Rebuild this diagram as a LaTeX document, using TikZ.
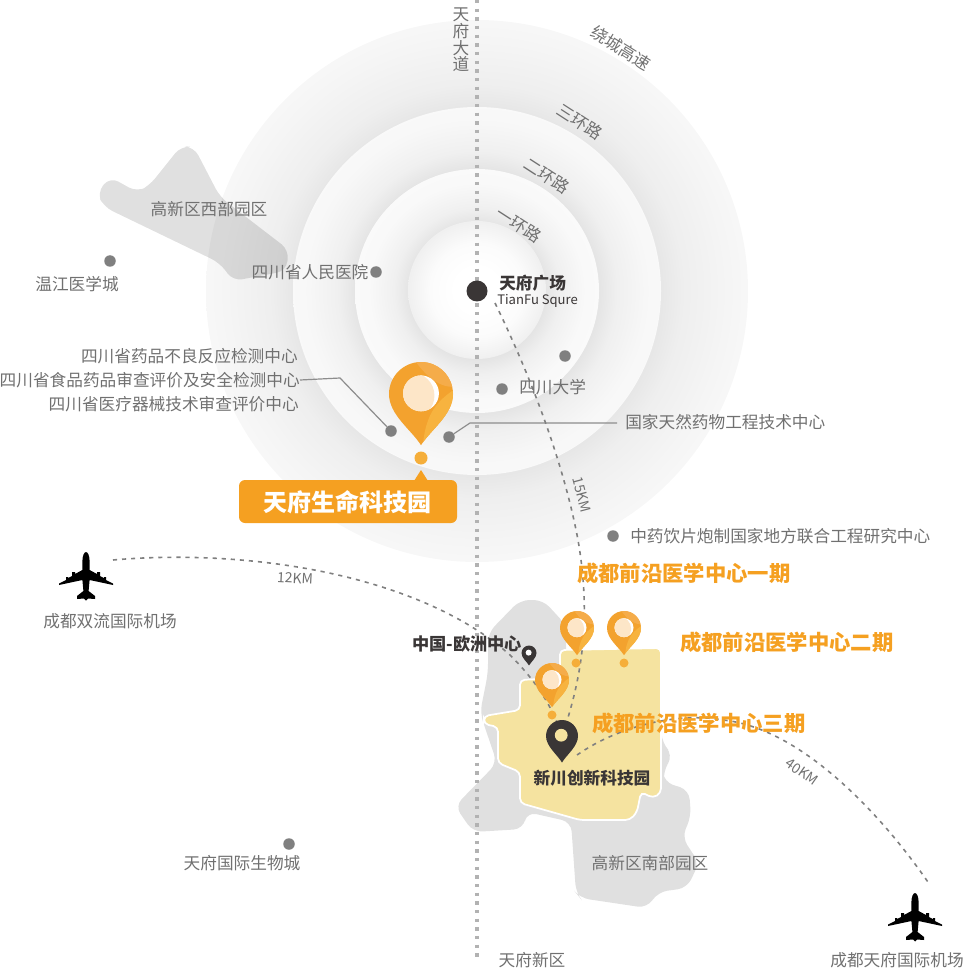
\documentclass[tikz,border=0pt]{standalone}
\usepackage{fontspec}
\setmainfont{Noto Sans CJK SC}
\usetikzlibrary{calc}
\definecolor{lab}{HTML}{707070}
\definecolor{dk}{HTML}{3A3636}
\definecolor{org}{HTML}{F5A021}
\definecolor{dotg}{HTML}{808080}
\definecolor{yel}{HTML}{F5E3A0}
\pgfdeclareradialshading{ringA}{\pgfpoint{0bp}{0bp}}{gray(0bp)=(0.905);gray(17bp)=(0.905);gray(19bp)=(0.935);gray(23bp)=(0.96);gray(25bp)=(0.97);gray(50bp)=(0.97)}
\pgfdeclareradialshading{ringB}{\pgfpoint{0bp}{0bp}}{gray(0bp)=(0.895);gray(16.5bp)=(0.895);gray(19bp)=(0.94);gray(23bp)=(0.97);gray(25bp)=(0.975);gray(50bp)=(0.975)}
\pgfdeclareradialshading{ringC}{\pgfpoint{0bp}{0bp}}{gray(0bp)=(0.895);gray(14bp)=(0.895);gray(17bp)=(0.94);gray(22bp)=(0.975);gray(25bp)=(0.98);gray(50bp)=(0.98)}
\pgfdeclareradialshading{ringD}{\pgfpoint{0bp}{0bp}}{gray(0bp)=(1);gray(8bp)=(1);gray(17bp)=(0.985);gray(25bp)=(0.94);gray(50bp)=(0.94)}
\definecolor{F3A02E}{HTML}{F3A22E}
\definecolor{F8BA45}{HTML}{F7B33F}
\definecolor{F5AD50}{HTML}{F5AC4A}
\definecolor{FDE6C8}{HTML}{FDE6C8}
\definecolor{F5AE3A}{HTML}{F5AE3A}
\tikzset{
  lbl/.style={inner sep=0pt,text=lab,font=\fontsize{12.5}{14}\selectfont},
  ttl/.style={inner sep=0pt,text=org,font=\fontsize{16}{18}\selectfont\bfseries},
  blk/.style={inner sep=0pt,text=dk,font=\fontsize{12.5}{14}\selectfont\bfseries},
  km/.style={inner sep=0pt,text=lab,font=\fontsize{10.5}{12}\selectfont},
  mapdot/.style={circle,fill=dotg,draw=none,inner sep=0pt,minimum size=11.5*.75pt},
  orgdot/.style={circle,fill=#1,draw=none,inner sep=0pt,minimum size=9*.75pt},
  orgdot/.default={F5AE3A},
  leaderline/.style={draw=dotg!90,line width=.9pt},
  dashline/.style={draw=dotg,line width=1.2pt,dash pattern=on 3.1pt off 3.7pt},
  region/.style={fill=black,fill opacity=.12,draw=none,rounded corners=7pt},
  orangepin/.pic={
    \def\pinpath{(0,1.6) .. controls (-.3,1.12) and (-1,.65) .. (-1,0) .. controls (-1,-.55) and (-.55,-1) .. (0,-1) .. controls (.55,-1) and (1,-.55) .. (1,0) .. controls (1,.65) and (.3,1.12) .. (0,1.6) -- cycle}
    \fill[pinbase] \pinpath;
    \begin{scope}
      \clip \pinpath;
      \fill[pinlight] (1.2,-.25) .. controls (.6,.15) and (.1,.5) .. (.05,1.8) -- (1.2,1.8) -- cycle;
      \fill[pintop] (-.3,-1.2) -- (1.2,-1.2) -- (1.2,-.25) .. controls (.6,-.1) and (.1,-.6) .. (-.3,-1.2) -- cycle;
    \end{scope}
    \fill[white] (0,-.02) circle[radius=.56];
    \begin{scope}
      \clip (0,-.02) circle[radius=.56];
      \fill[pincream] (-.3,.05) circle[radius=.72];
    \end{scope}
  },
  blackpin/.pic={
    \fill[dk] (0,1.66) .. controls (-.3,1.15) and (-1,.65) .. (-1,0) .. controls (-1,-.55) and (-.55,-1) .. (0,-1) .. controls (.55,-1) and (1,-.55) .. (1,0) .. controls (1,.65) and (.3,1.15) .. (0,1.66) -- cycle;
    \fill[pic actions] (-.05,-.05) circle[radius=.4];
  },
  pinbase/.style={fill=F3A02E},
  pinlight/.style={fill=F8BA45},
  pintop/.style={fill=F5AD50},
  pincream/.style={fill=FDE6C8},
}
\begin{document}
\begin{tikzpicture}[x=.75pt,y=-.75pt]
\useasboundingbox (0,0) rectangle (964,969);
% rings
\coordinate (ctr) at (477,291);
\shade[shading=ringA] (ctr) circle[radius=271];
\shade[shading=ringB] (ctr) circle[radius=184];
\shade[shading=ringC] (ctr) circle[radius=122];
\shade[shading=ringD] (477,290) circle[radius=69];
% regions
\path[region] (97,193) -- (110,177) -- (137,192) -- (149,186) -- (181,146) -- (194,147) -- (220,197) -- (289,250) -- (286,271) -- (233,281) -- (220,263) -- (104,207) -- cycle;
\path[region] (488,633) -- (520,600) -- (543,600) -- (566,625) -- (566,680) -- (660,700) -- (662,743) -- (673,755) -- (663,772) -- (664,782) -- (689,790) -- (691,817) -- (682,837) -- (699,863) -- (687,888) -- (658,892) -- (647,908) -- (580,898) -- (576,893) -- (571,822) -- (527,812) -- (523,829) -- (473,832) -- (455,806) -- (497,763) -- (480,713) -- (488,673) -- cycle;
\path[fill=yel,draw=white,line width=1.3pt,rounded corners=3.5pt] (560,650) -- (661,648) -- (661,793) -- (653,798) -- (641,792) -- (637,812) -- (630,820) -- (580,820) -- (520,803) -- (520,772) -- (498,763) -- (498,727) -- (484,724) -- (484,716) -- (520,710) -- (520,680) -- (560,678) -- cycle;
% avenue
\draw[draw=gray!60,line width=2.7pt,dash pattern=on 2.6pt off 3.9pt] (477,0) -- (477,960);
% dots
\node[mapdot] (dWen) at (110,261) {};
\node[mapdot] (dRen) at (376,272) {};
\node[mapdot] (dA) at (391,431) {};
\node[mapdot] (dB) at (449,437) {};
\node[mapdot] (dC) at (565,356) {};
\node[mapdot] (dD) at (502,389) {};
\node[mapdot] (dE) at (613,536) {};
\node[mapdot] (dF) at (289,844) {};
\node[circle,fill=dk,draw=none,inner sep=0pt,minimum size=21*.75pt] (square) at (477,291) {};
% text nodes used by connectors
\node[lbl,anchor=east] (food) at (300,380) {四川省食品药品审查评价及安全检测中心};
\node[lbl,anchor=west] (nat) at (625,422) {国家天然药物工程技术中心};
% leaders
\coordinate (kA) at (340,378);
\coordinate (kB) at (470,423);
\draw[leaderline] (food.east) -- (kA) -- (dA);
\draw[leaderline] (dB) -- (kB) -- ($(nat.west)+(-8,1)$);
% dashed connectors
\coordinate (airL) at (113,560);
\coordinate (airR) at (930,885);
\coordinate (xcA) at (562,736);
\coordinate (sqS) at (495,303);
\coordinate (xcB) at (577,755);
\draw[dashline] (sqS) .. controls (535,385) and (565,470) .. (578,540) .. controls (590,610) and (585,670) .. (xcA);
\draw[dashline] (airL) .. controls (250,548) and (420,575) .. (510,655) .. controls (535,680) and (552,705) .. (xcA);
\draw[dashline] (xcB) .. controls (620,725) and (680,712) .. (723,720) .. controls (800,728) and (880,812) .. (airR);
% big pin
\pic[scale=32] at (421,394) {orangepin};
\node[orgdot,minimum size=13*.75pt] (pinDot) at (421,458) {};
% callout
\fill[org,rounded corners=4.5pt] (239,480) rectangle (457,523);
\fill[org] (414,481) -- (421,470) -- (428,481) -- cycle;
\node[inner sep=0pt,text=white,font=\fontsize{18}{20}\selectfont\bfseries] (tfl) at (347,502) {天府生命科技园};
% small pins
\pic[scale=17] at (577,628) {orangepin};
\node[orgdot] (d1) at (576,663) {};
\pic[scale=17] at (624,628) {orangepin};
\node[orgdot] (d2) at (624,663) {};
\pic[scale=17] at (552,680) {orangepin};
\node[orgdot] (d3) at (552,715) {};
\pic[scale=16,fill=yel] at (562,736) {blackpin};
\pic[scale=7.5,fill=white] at (529,653) {blackpin};
% planes
\foreach \px/\py in {86/552,915/893}{
\fill[black,shift={(\px,\py)}] (0,0) .. controls (2,0) and (3.5,4) .. (3.6,9) -- (3.6,18) -- (11,22) -- (11,20) -- (14,20) -- (14,24) -- (18,26) -- (18,25) -- (20,25) -- (20,28) -- (27,31.5) -- (27,33) -- (3.6,28) -- (2.6,39) -- (9,44) -- (9,47) -- (2,46.5) -- (0,48.5) -- (-2,46.5) -- (-9,47) -- (-9,44) -- (-2.6,39) -- (-3.6,28) -- (-27,33) -- (-27,31.5) -- (-20,28) -- (-20,25) -- (-18,25) -- (-18,26) -- (-14,24) -- (-14,20) -- (-11,20) -- (-11,22) -- (-3.6,18) -- (-3.6,9) .. controls (-3.5,4) and (-2,0) .. (0,0) -- cycle;
}
% labels
\node[lbl,rotate=-32] (rd4) at (621,48) {绕城高速};
\node[lbl,rotate=-33] (rd3) at (580,122) {三环路};
\node[lbl,rotate=-33] (rd2) at (547,176) {二环路};
\node[lbl,rotate=-33] (rd1) at (519,225) {一环路};
\node[lbl,align=center,font=\fontsize{12.5}{12.4}\selectfont] (ave) at (461,40) {天\\府\\大\\道};
\node[lbl] (west) at (209,209) {高新区西部园区};
\node[lbl] (ren) at (310,272) {四川省人民医院};
\node[lbl] (wen) at (77,284) {温江医学城};
\node[lbl,anchor=east] (adr) at (298,356) {四川省药品不良反应检测中心};
\node[lbl,anchor=east] (dev) at (299,404) {四川省医疗器械技术审查评价中心};
\node[lbl,anchor=west] (scu) at (519,387) {四川大学};
\node[blk,anchor=west] (sqa) at (499,283) {天府广场};
\node[inner sep=0pt,text=dk,anchor=west,font=\fontsize{9.8}{11}\selectfont] (sqb) at (497,301) {TianFu Squre};
\node[km,rotate=-75] (k15) at (582,495) {15KM};
\node[km,rotate=-3] (k12) at (295,578) {12KM};
\node[km,rotate=-35] (k40) at (802,772) {40KM};
\node[lbl,anchor=west] (tcm) at (630,536) {中药饮片炮制国家地方联合工程研究中心};
\node[lbl] (shl) at (110,621) {成都双流国际机场};
\node[lbl] (tfa) at (897,960) {成都天府国际机场};
\node[lbl] (tfx) at (532,960) {天府新区};
\node[lbl] (bio) at (242,863) {天府国际生物城};
\node[lbl] (sou) at (650,863) {高新区南部园区};
\node[ttl,anchor=west] (ph1) at (577,573) {成都前沿医学中心一期};
\node[ttl,anchor=west] (ph2) at (680,642) {成都前沿医学中心二期};
\node[ttl,anchor=west] (ph3) at (592,723) {成都前沿医学中心三期};
\node[blk] (xc) at (592,778) {新川创新科技园};
\node[blk,font=\fontsize{12.9}{14}\selectfont\bfseries] (eu) at (467,644) {中国-欧洲中心};
\end{tikzpicture}
\end{document}
